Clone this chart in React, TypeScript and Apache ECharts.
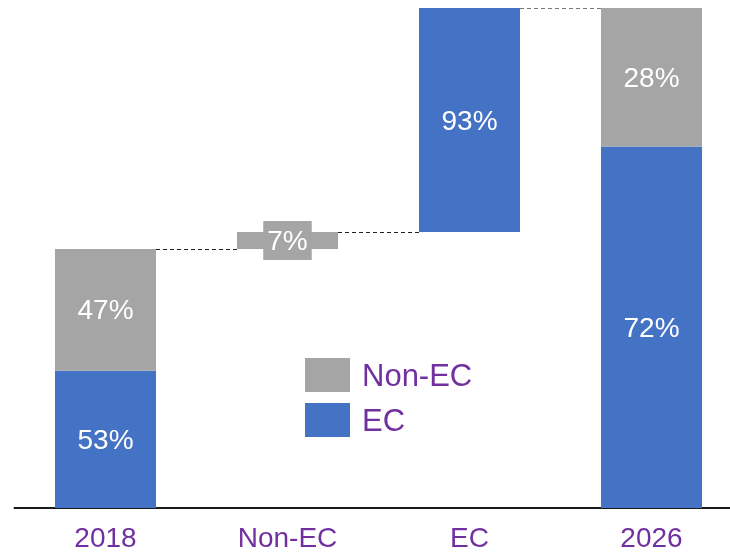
import React, { useEffect, useRef } from "react";
import * as echarts from "echarts";

const categories = ["2018", "Non-EC", "EC", "2026"];
// invisible base for the floating (waterfall) bars
const baseValues: (number | string)[] = [0, 100, 106.5, 0];
const ecValues: (number | string)[] = [53, "-", 86.5, 139.5];
const nonEcValues: (number | string)[] = [47, 6.5, "-", 53.5];
const ecLabels = ["53%", "", "93%", "72%"];
const nonEcLabels = ["47%", "7%", "", "28%"];
// connector levels between consecutive bars (category index, level)
const connectors: number[][] = [
  [0, 100],
  [1, 106.5],
  [2, 193],
];

const BLUE = "#4472C4";
const GRAY = "#A5A5A5";
const PURPLE = "#7030A0";
const CONNECTOR_COLORS = ["#222", "#222", "#777"];
const FONT = "'Liberation Sans Narrow', 'Arial Narrow', 'Liberation Sans', Arial, sans-serif";
const BAR_RATIO = 0.555;

export default function App() {
  const ref = useRef<HTMLDivElement>(null);
  useEffect(() => {
    document.body.style.margin = "0";
    document.documentElement.style.overflow = "hidden";
    const chart = echarts.init(ref.current!, null, { renderer: "svg" });
    chart.setOption({
      animation: false,
      grid: { left: 14.5, right: 0.5, top: 8, bottom: 46 },
      xAxis: {
        type: "category",
        data: categories,
        axisLine: { lineStyle: { color: "#1a1a1a", width: 2 } },
        axisTick: { show: false },
        axisLabel: { color: PURPLE, fontSize: 28, fontFamily: FONT, margin: 15 },
      },
      yAxis: {
        type: "value",
        min: 0,
        max: 193,
        show: false,
        splitLine: { show: false },
      },
      legend: {
        data: ["Non-EC", "EC"],
        orient: "vertical",
        left: 305,
        top: 358,
        padding: 0,
        itemWidth: 45,
        itemHeight: 34,
        itemGap: 11,
        icon: "rect",
        textStyle: { color: PURPLE, fontSize: 31, fontFamily: "'Liberation Sans', Arial, sans-serif", padding: [0, 0, 0, 7] },
      },
      series: [
        {
          name: "base",
          type: "bar",
          stack: "s",
          barWidth: BAR_RATIO * 100 + "%",
          data: baseValues,
          itemStyle: { color: "transparent" },
          silent: true,
        },
        {
          name: "EC",
          type: "bar",
          stack: "s",
          data: ecValues,
          itemStyle: { color: BLUE },
          label: {
            show: true,
            position: "inside",
            color: "#fff",
            fontSize: 28,
            fontFamily: FONT,
            formatter: (p: any) => ecLabels[p.dataIndex],
          },
        },
        {
          name: "Non-EC",
          type: "bar",
          stack: "s",
          data: nonEcValues.map((v, i) =>
            i === 1
              ? { value: v, label: { backgroundColor: GRAY, padding: [4, 4], lineHeight: 31 } }
              : v
          ),
          itemStyle: { color: GRAY },
          label: {
            show: true,
            position: "inside",
            color: "#fff",
            fontSize: 28,
            fontFamily: FONT,
            formatter: (p: any) => nonEcLabels[p.dataIndex],
          },
        },
        {
          name: "conn",
          type: "custom",
          data: connectors,
          silent: true,
          z: 1,
          renderItem: (params: any, api: any) => {
            const i = api.value(0);
            const v = api.value(1);
            const a = api.coord([i, v]);
            const b = api.coord([i + 1, v]);
            const bw = api.size([1, 0])[0] * BAR_RATIO;
            const y = Math.round(a[1]) + 0.5;
            return {
              type: "line",
              shape: { x1: a[0] + bw / 2, y1: y, x2: b[0] - bw / 2, y2: y },
              style: { stroke: CONNECTOR_COLORS[params.dataIndex], lineWidth: 1, lineDash: [4, 3] },
            };
          },
        },
      ],
    });
    return () => chart.dispose();
  }, []);
  return <div ref={ref} style={{ position: "fixed", left: 0, top: 0, width: 743, height: 554 }} />;
}
